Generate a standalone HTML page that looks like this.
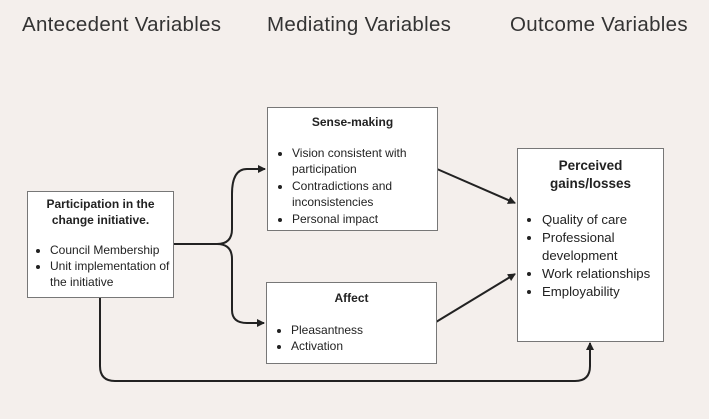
<!DOCTYPE html>
<html><head><style>
body{margin:0;width:709px;height:419px;background:#f4efec;position:relative;font-family:"Liberation Sans",sans-serif;color:#222;overflow:hidden}
.h{position:absolute;top:13px;font-size:20.5px;color:#333}
.b{position:absolute;background:#fff;border:1px solid #777;box-sizing:border-box;font-size:12px;line-height:16.5px}
.b .t{font-weight:bold;text-align:center;font-size:12px}
.b ul{margin:0;padding-left:24px}
.b li{padding-left:0}
</style></head><body>
<div class="h" style="left:22px;letter-spacing:0.3px">Antecedent Variables</div>
<div class="h" style="left:267px;letter-spacing:0.3px">Mediating Variables</div>
<div class="h" style="left:510px;letter-spacing:0.3px">Outcome Variables</div>
<svg width="709" height="419" style="position:absolute;left:0;top:0">
<defs><marker id="a" markerWidth="8" markerHeight="8" refX="7" refY="4" orient="auto" markerUnits="userSpaceOnUse"><path d="M0,0 L8,4 L0,8z" fill="#222"/></marker></defs>
<g fill="none" stroke="#222" stroke-width="2">
<path d="M173,244 H217 Q232,244 232,229 V194 Q232,169 247,169 H265" marker-end="url(#a)"/>
<path d="M217,244 Q232,244 232,259 V310 Q232,323 247,323 H264" marker-end="url(#a)"/>
<path d="M437,169 L515,203" marker-end="url(#a)"/>
<path d="M436,322 L515,274" marker-end="url(#a)"/>
<path d="M100,297 V366 Q100,381 115,381 H575 Q590,381 590,366 V343" marker-end="url(#a)"/>
</g></svg>
<div class="b" style="left:27px;top:191px;width:147px;height:107px;padding-top:4px;line-height:16px">
<div class="t">Participation in the<br>change initiative.</div><div style="height:14px"></div>
<ul style="padding-left:22px"><li>Council Membership</li><li>Unit implementation of the initiative</li></ul></div>
<div class="b" style="left:267px;top:107px;width:171px;height:124px;padding-top:6px">
<div class="t">Sense-making</div><div style="height:14px"></div>
<ul><li>Vision consistent with participation</li><li>Contradictions and inconsistencies</li><li>Personal impact</li></ul></div>
<div class="b" style="left:266px;top:282px;width:171px;height:82px;padding-top:7px">
<div class="t">Affect</div><div style="height:15px"></div>
<ul><li>Pleasantness</li><li>Activation</li></ul></div>
<div class="b" style="left:517px;top:148px;width:147px;height:194px;padding-top:8px;font-size:13.2px;line-height:18px">
<div class="t" style="font-size:13.5px">Perceived<br>gains/losses</div><div style="height:18px"></div>
<ul><li>Quality of care</li><li>Professional development</li><li>Work relationships</li><li>Employability</li></ul></div>
</body></html>
